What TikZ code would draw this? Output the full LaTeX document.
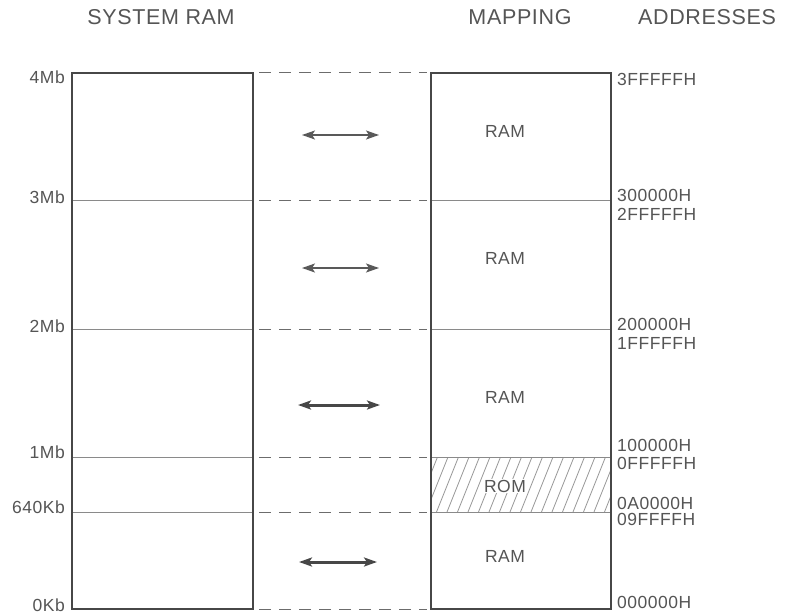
\documentclass[tikz,border=0pt]{standalone}
\usepackage{fontspec}
\setmainfont{Liberation Sans}
\newfontfamily\lblfont[LetterSpace=3]{Liberation Sans}
\newfontfamily\hdrfont[LetterSpace=3]{Liberation Sans}
\usetikzlibrary{arrows.meta}
\definecolor{ink}{HTML}{474747}
\definecolor{textink}{HTML}{555555}
\definecolor{lightink}{HTML}{8A8A8A}
\begin{document}
\begin{tikzpicture}[x=1pt,y=-1pt,
  boxline/.style={draw=ink,line width=1.4pt},
  divline/.style={draw=lightink,line width=0.9pt},
  dashline/.style={draw=ink!80,line width=1pt,dash pattern=on 12pt off 8pt},
  hatchline/.style={draw=lightink!90,line width=0.8pt},
  thinarrow/.style={draw=ink!90,line width=1.6pt,{Stealth[length=13pt,width=9pt,inset=3pt]}-{Stealth[length=13pt,width=9pt,inset=3pt]}},
  thickarrow/.style={draw=ink,line width=3pt,{Stealth[length=13pt,width=9pt,inset=3pt]}-{Stealth[length=13pt,width=9pt,inset=3pt]}},
  hdr/.style={text=textink,font=\hdrfont\fontsize{21.5}{24}\selectfont,inner sep=0pt},
  lbl/.style={text=textink,font=\lblfont\fontsize{17.5}{20}\selectfont,inner sep=0pt},
]
\useasboundingbox (0,0) rectangle (786,615);
\fill[white] (0,0) rectangle (786,615);

% headers
\node[hdr,anchor=base] (hsys) at (161,25) {SYSTEM RAM};
\node[hdr,anchor=base] (hmap) at (520,25) {MAPPING};
\node[hdr,anchor=base] (hadr) at (707,25) {ADDRESSES};

% level coordinates (left box right side / right box left side)
\foreach \n/\y in {a/73,b/200,c/329,d/457,e/512,f/609}{
  \coordinate (L\n) at (253,\y);
  \coordinate (R\n) at (431,\y);
}

% hatched ROM area
\begin{scope}
  \clip (431,457) rectangle (611,512);
  \foreach \i in {0,...,20}
    \draw[hatchline] (405+\i*10.5,512) -- ++(22,-55);
\end{scope}

% division lines
\foreach \y in {200,329,457,512}{
  \draw[divline] (72,\y) -- (253,\y);
  \draw[divline] (431,\y) -- (611,\y);
}

% boxes
\draw[boxline] (72,73) rectangle (253,609);
\draw[boxline] (431,73) rectangle (611,609);

% dashed mapping lines
\foreach \n in {a,b,c,d,e,f}
  \draw[dashline] ([xshift=6pt]L\n) -- ([xshift=-4pt]R\n);

% arrows
\coordinate (a1l) at (302,135); \coordinate (a1r) at (379,135);
\coordinate (a2l) at (302,268); \coordinate (a2r) at (379,268);
\coordinate (a3l) at (298,405); \coordinate (a3r) at (380,405);
\coordinate (a4l) at (299,562); \coordinate (a4r) at (377,562);
\draw[thinarrow] (a1l) -- (a1r);
\draw[thinarrow] (a2l) -- (a2r);
\draw[thickarrow] (a3l) -- (a3r);
\draw[thickarrow] (a4l) -- (a4r);

% left labels
\node[lbl,anchor=base east] (l4) at (65,84) {4Mb};
\node[lbl,anchor=base east] (l3) at (65,203) {3Mb};
\node[lbl,anchor=base east] (l2) at (65,332) {2Mb};
\node[lbl,anchor=base east] (l1) at (65,458) {1Mb};
\node[lbl,anchor=base east] (l640) at (65,513) {640Kb};
\node[lbl,anchor=base east] (l0) at (65,611) {0Kb};

% right labels
\node[lbl,anchor=base west] (r1) at (617,86) {3FFFFFH};
\node[lbl,anchor=base west] (r2) at (617,201) {300000H};
\node[lbl,anchor=base west] (r3) at (617,220) {2FFFFFH};
\node[lbl,anchor=base west] (r4) at (617,330) {200000H};
\node[lbl,anchor=base west] (r5) at (617,349) {1FFFFFH};
\node[lbl,anchor=base west] (r6) at (617,451) {100000H};
\node[lbl,anchor=base west] (r7) at (617,469) {0FFFFFH};
\node[lbl,anchor=base west] (r8) at (617,509) {0A0000H};
\node[lbl,anchor=base west] (r9) at (617,525) {09FFFFH};
\node[lbl,anchor=base west] (r10) at (617,608) {000000H};

% block labels
\node[lbl,anchor=base] (ram1) at (505,137) {RAM};
\node[lbl,anchor=base] (ram2) at (505,264) {RAM};
\node[lbl,anchor=base] (ram3) at (505,403) {RAM};
\node[lbl,anchor=base,fill=white,inner sep=1pt] (rom) at (505,492) {ROM};
\node[lbl,anchor=base] (ram4) at (505,562) {RAM};
\end{tikzpicture}
\end{document}
